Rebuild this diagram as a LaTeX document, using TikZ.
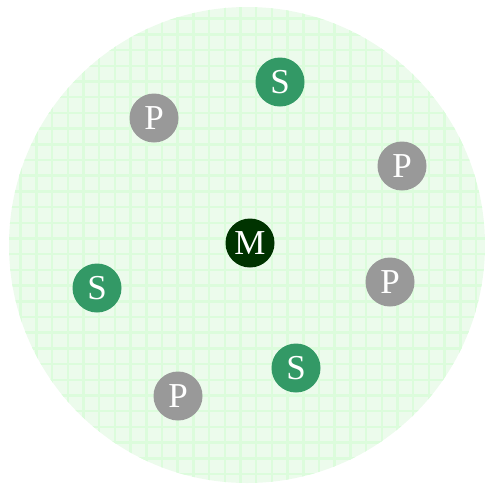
\documentclass[tikz,border=0pt]{standalone}
\usepackage{fontspec}
\setmainfont{Liberation Serif}
\definecolor{sgreen}{RGB}{51,153,102}
\definecolor{pgray}{RGB}{153,153,153}
\definecolor{mgreen}{RGB}{0,51,0}
\definecolor{bgfill}{RGB}{236,251,236}
\definecolor{bgline}{RGB}{220,252,220}
\tikzset{
  ball/.style={circle, minimum size=49pt, inner sep=0pt, text=white, font=\fontsize{35}{35}\selectfont},
  sball/.style={ball, fill=sgreen},
  pball/.style={ball, fill=pgray},
  mball/.style={ball, fill=mgreen},
}
\begin{document}
\begin{tikzpicture}[x=1pt,y=-1pt]
\useasboundingbox (0,0) rectangle (485,483);
\coordinate (c) at (247,245);
\fill[bgfill] (c) circle (238);
\begin{scope}
\clip (c) circle (238);
\foreach \i in {0,...,31} {
  \draw[bgline, line width=2.5pt] (\i*15.7+5,0) -- (\i*15.7+5,483);
  \draw[bgline, line width=2.5pt] (0,\i*15.7+3) -- (485,\i*15.7+3);
}
\end{scope}
\node[mball] (m) at (250,243) {M};
\node[sball] (s1) at (280,82) {S};
\node[sball] (s2) at (97,288) {S};
\node[sball] (s3) at (296,368) {S};
\node[pball] (p1) at (154,118) {P};
\node[pball] (p2) at (402,166) {P};
\node[pball] (p3) at (390,282) {P};
\node[pball] (p4) at (178,396) {P};
\end{tikzpicture}
\end{document}
